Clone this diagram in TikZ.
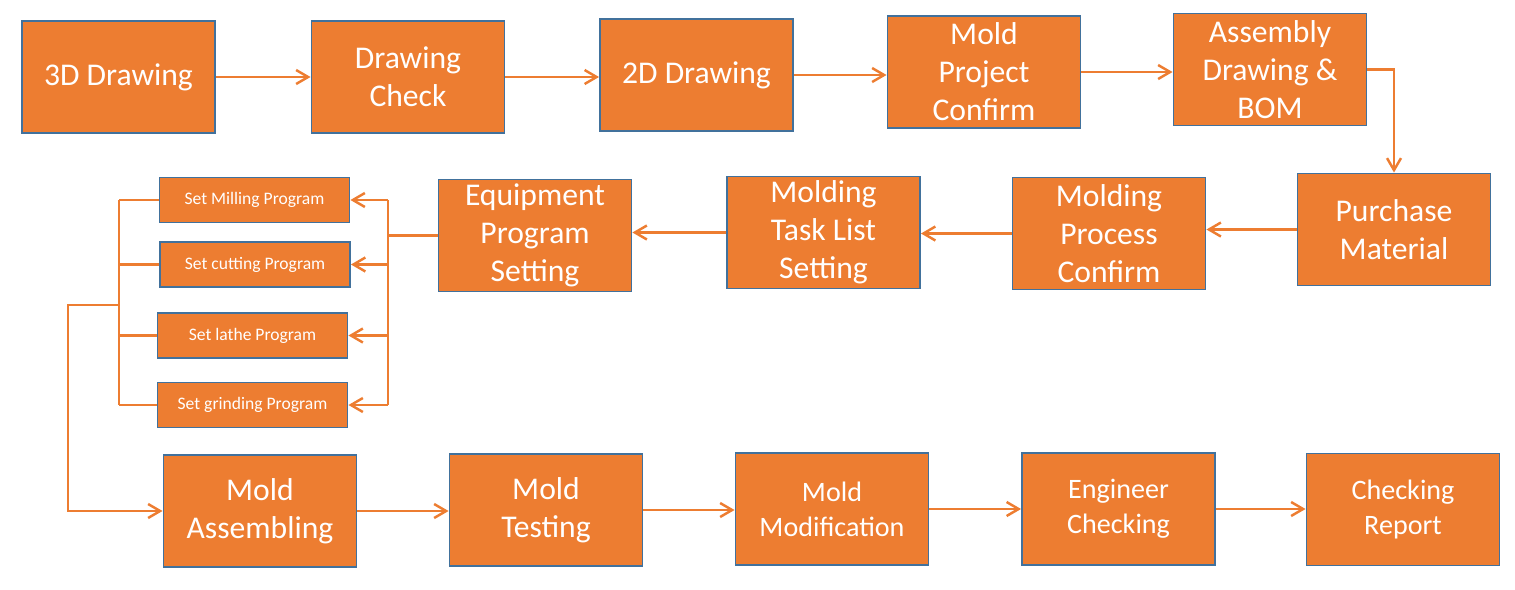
\documentclass[tikz,border=0pt]{standalone}
\usepackage{fontspec}
\setmainfont{Carlito}
\usetikzlibrary{arrows.meta,backgrounds}
\definecolor{boxfill}{HTML}{ED7D31}
\definecolor{boxline}{HTML}{41719C}
\definecolor{linkline}{HTML}{ED7D31}

\begin{document}
\begin{tikzpicture}[x=0.02cm,y=-0.02cm,
  every node/.style={rectangle,draw=boxline,line width=1.1pt,fill=boxfill,text=white,align=center,inner sep=0pt},
  stage/.style={minimum width=3.86cm,minimum height=2.24cm,font=\fontsize{18}{21.6}\selectfont},
  lowstage/.style={stage,font=\fontsize{16}{19.9}\selectfont},
  prog/.style={minimum width=3.8cm,minimum height=0.9cm,font=\fontsize{10}{12}\selectfont},
  link/.style={draw=linkline,line width=1.4pt},
  flow/.style={link,-{Straight Barb[length=2.4mm,width=2.8mm]}}]
\useasboundingbox (0,0) rectangle (1515,589);
\node[stage] (d3) at (118.5,77) {3D Drawing};
\node[stage] (dc) at (408,77) {Drawing\\Check};
\node[stage] (d2) at (696.5,75) {2D Drawing};
\node[stage] (mp) at (984,72) {Mold\\Project\\Confirm};
\node[stage] (ab) at (1270,69.5) {Assembly\\Drawing \&\\BOM};
\node[stage] (pm) at (1394,229.5) {Purchase\\Material};
\node[stage] (pc) at (1109,233.5) {Molding\\Process\\Confirm};
\node[stage] (tl) at (823.5,232.5) {Molding\\Task List\\Setting};
\node[stage] (ep) at (535,235.5) {Equipment\\Program\\Setting};
\node[prog] (s1) at (254.5,200) {Set Milling Program};
\node[prog] (s2) at (255,264.5) {Set cutting Program};
\node[prog] (s3) at (252.5,335.5) {Set lathe Program};
\node[prog] (s4) at (252.5,405) {Set grinding Program};
\node[stage] (ma) at (260,511) {Mold\\Assembling};
\node[stage] (mt) at (546,510) {Mold\\Testing};
\node[lowstage] (mm) at (832,509) {Mold\\Modification};
\node[lowstage] (ec) at (1118.5,509) {Engineer\\Checking};
\node[lowstage] (cr) at (1403,509.5) {Checking\\Report};
\coordinate (rb) at (388,235);
\coordinate (lb) at (119,305);
\coordinate (lk) at (68,305);
\begin{scope}[on background layer]
\foreach \a/\b in {d3/dc,dc/d2,d2/mp,mp/ab}
  \draw[flow] (\a.east) -- (\a.east -| \b.west);
\draw[flow] (ab.east) -| (pm.north);
\foreach \a/\b in {pm/pc,pc/tl,tl/ep}
  \draw[flow] (\a.west) -- (\a.west -| \b.east);
\draw[link] (ep.west) -- (ep.west -| rb);
\draw[link] (rb |- s1.east) -- (rb |- s4.east);
\draw[link] (lb |- s1.west) -- (lb |- s4.west);
\foreach \s in {s1,s2,s3,s4}{
  \draw[flow] (rb |- \s.east) -- (\s.east);
  \draw[link] (\s.west) -- (lb |- \s.west);
}
\draw[flow] (lb) -- (lk) |- (ma.west);
\foreach \a/\b in {ma/mt,mt/mm,mm/ec,ec/cr}
  \draw[flow] (\a.east) -- (\a.east -| \b.west);
\end{scope}
\end{tikzpicture}
\end{document}
